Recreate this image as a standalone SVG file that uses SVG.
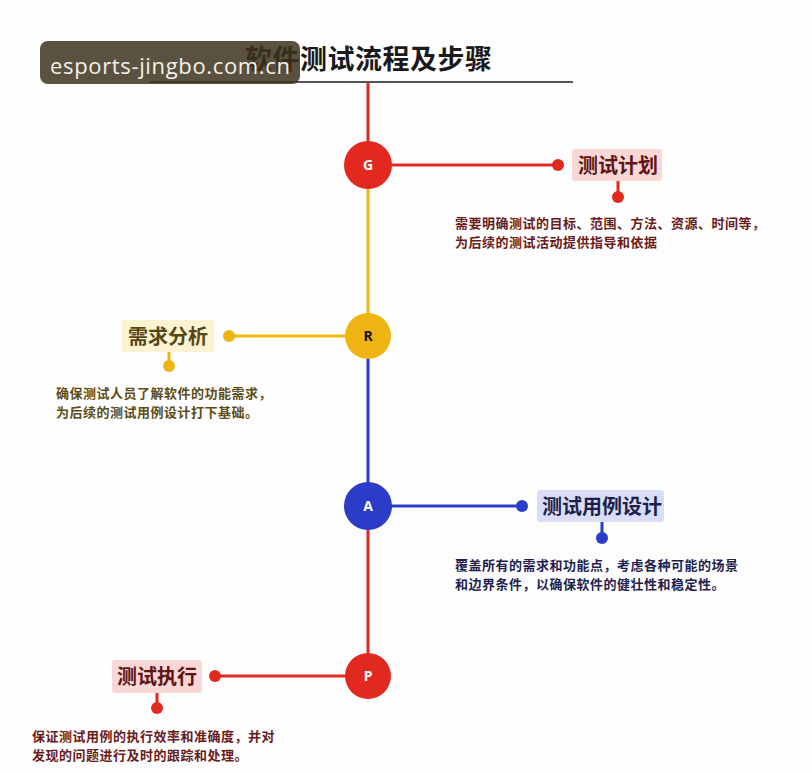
<svg xmlns="http://www.w3.org/2000/svg" width="812" height="773" viewBox="0 0 812 773">
<style>
.cjk{font-family:"Noto Sans CJK SC","Noto Sans",sans-serif;font-weight:bold}
.lbl{font-size:20px}
.desc{font-size:13px;letter-spacing:0.5px}
.letter{font-family:"Noto Sans","Liberation Sans",sans-serif;font-weight:bold;font-size:14px;text-anchor:middle}
.red{stroke:#e2291f;fill:none;stroke-width:3}
.yel{stroke:#eeb512;fill:none;stroke-width:3}
.blu{stroke:#2a3cc8;fill:none;stroke-width:3}
</style>
<rect width="812" height="773" fill="#fdfdfd"/>
<g id="title">
<line x1="150" y1="82" x2="573" y2="82" stroke="#555" stroke-width="2"/>
<text x="245" y="69" class="cjk" font-size="27" fill="#1a1a1a" textLength="247">软件测试流程及步骤</text>
</g>
<g id="connectors">
<line class="red" x1="368" y1="83" x2="368" y2="165"/>
<line class="yel" x1="368" y1="165" x2="368" y2="336"/>
<line class="blu" x1="368" y1="336" x2="368" y2="506"/>
<line class="red" x1="368" y1="506" x2="368" y2="676"/>
<line class="red" x1="368" y1="165" x2="558" y2="165"/>
<circle cx="558" cy="165" r="6" fill="#e2291f"/>
<line class="red" x1="618" y1="181" x2="618" y2="197" stroke-width="2.5"/>
<circle cx="618" cy="197" r="6" fill="#e2291f"/>
<line class="yel" x1="368" y1="336" x2="229" y2="336"/>
<circle cx="229" cy="336" r="6" fill="#eeb512"/>
<line class="yel" x1="169" y1="352" x2="169" y2="366" stroke-width="2.5"/>
<circle cx="169" cy="366" r="6" fill="#eeb512"/>
<line class="blu" x1="368" y1="506" x2="522" y2="506"/>
<circle cx="522" cy="506" r="6" fill="#2a3cc8"/>
<line class="blu" x1="602" y1="522" x2="602" y2="538" stroke-width="2.5"/>
<circle cx="602" cy="538" r="6" fill="#2a3cc8"/>
<line class="red" x1="368" y1="676" x2="215" y2="676"/>
<circle cx="215" cy="676" r="6" fill="#e2291f"/>
<line class="red" x1="157" y1="693" x2="157" y2="708" stroke-width="2.5"/>
<circle cx="157" cy="708" r="6" fill="#e2291f"/>
</g>
<g id="node-G">
<circle cx="368" cy="165" r="24" fill="#e2291f"/>
<text x="368" y="170" class="letter" fill="#fff">G</text>
</g>
<g id="node-R">
<circle cx="368" cy="336" r="23" fill="#eeb512"/>
<text x="368" y="341" class="letter" fill="#111">R</text>
</g>
<g id="node-A">
<circle cx="368" cy="506" r="24" fill="#2a3cc8"/>
<text x="368" y="511" class="letter" fill="#fff">A</text>
</g>
<g id="node-P">
<circle cx="368" cy="676" r="23" fill="#e2291f"/>
<text x="368" y="681" class="letter" fill="#fff">P</text>
</g>
<g id="step-plan">
<rect x="572" y="149" width="90" height="32" rx="3" fill="#f8d7d7"/>
<text x="578" y="173" class="cjk lbl" fill="#5e1515">测试计划</text>
<text class="cjk desc" fill="#6a1a1a"><tspan x="455" y="228">需要明确测试的目标、范围、方法、资源、时间等，</tspan><tspan x="455" y="247">为后续的测试活动提供指导和依据</tspan></text>
</g>
<g id="step-req">
<rect x="122" y="320" width="92" height="32" rx="3" fill="#fbf3d2"/>
<text x="128" y="344" class="cjk lbl" fill="#574612">需求分析</text>
<text class="cjk desc" fill="#5e4c14"><tspan x="56" y="398">确保测试人员了解软件的功能需求，</tspan><tspan x="56" y="417">为后续的测试用例设计打下基础。</tspan></text>
</g>
<g id="step-design">
<rect x="537" y="490" width="127" height="32" rx="3" fill="#d9ddf5"/>
<text x="542" y="514" class="cjk lbl" fill="#1c1f4d">测试用例设计</text>
<text class="cjk desc" fill="#1f1f4f"><tspan x="455" y="570">覆盖所有的需求和功能点，考虑各种可能的场景</tspan><tspan x="455" y="589">和边界条件，以确保软件的健壮性和稳定性。</tspan></text>
</g>
<g id="step-exec">
<rect x="112" y="660" width="90" height="33" rx="3" fill="#f8d7d7"/>
<text x="117" y="684" class="cjk lbl" fill="#5e1515">测试执行</text>
<text class="cjk desc" fill="#6a1a1a"><tspan x="32" y="741">保证测试用例的执行效率和准确度，并对</tspan><tspan x="32" y="760">发现的问题进行及时的跟踪和处理。</tspan></text>
</g>
<g id="badge">
<rect x="40" y="41" width="260" height="43" rx="8" fill="#3e321f" fill-opacity="0.85"/>
<text x="50" y="74" font-family="Open Sans, Noto Sans, sans-serif" font-size="22" fill="#f4f1ea" textLength="240">esports-jingbo.com.cn</text>
</g>
</svg>
